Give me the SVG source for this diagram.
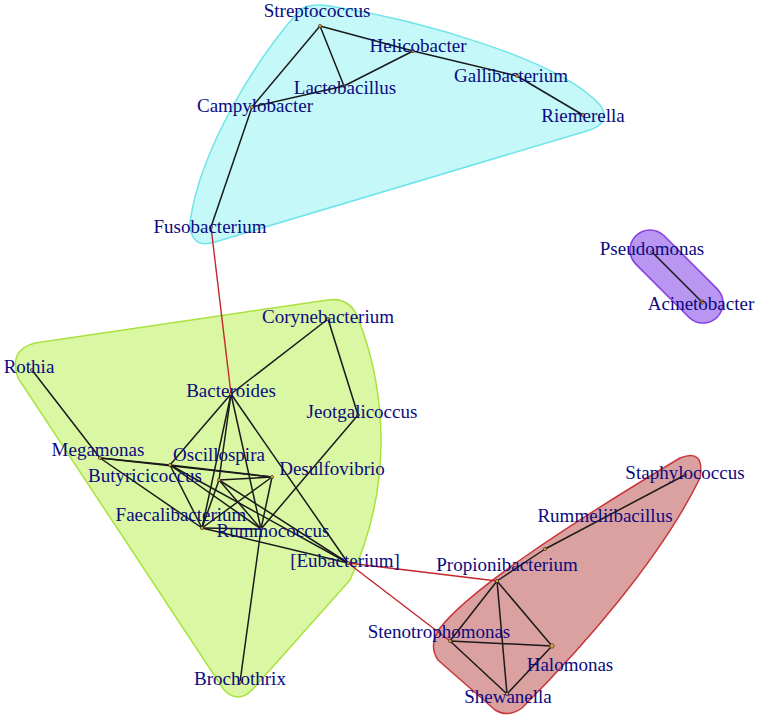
<svg xmlns="http://www.w3.org/2000/svg" width="759" height="717" viewBox="0 0 759 717">
<style>
.e{stroke:#1a1a1a;stroke-width:1.5;fill:none}
.r{stroke:#c4262b;stroke-width:1.4;fill:none}
.v{fill:#e8a52a;stroke:#333;stroke-width:0.7}
text{font-family:"Liberation Serif","Times New Roman",serif;font-size:19px;fill:#0b0b80;text-anchor:middle}
</style>
<rect width="759" height="717" fill="#ffffff"/>
<g id="hulls">
<path id="hull-cyan" d="M300,10 Q310,3 330,6 C420,20 560,60 600,105 Q612,122 590,130 L215,242 Q190,250 190,222 C200,150 255,60 300,10 Z" fill="#c4f8f9" stroke="#6fe4e9" stroke-width="1.5"/>
<path id="hull-green" d="M35,343 L328,300 Q350,297 358,318 C388,395 392,490 350,580 L252,690 Q238,704 224,690 L18,378 Q8,350 35,343 Z" fill="#daf8a3" stroke="#a9e23e" stroke-width="1.5"/>
<rect id="hull-purple" x="619" y="256.5" width="115" height="40" rx="20" transform="rotate(45 676.5 276.5)" fill="#b896f1" stroke="#8a3de2" stroke-width="1.5"/>
<path id="hull-red" d="M440,628 C470,590 560,530 680,458 Q705,448 700,478 C660,560 580,650 522,708 Q508,718 495,710 L438,660 Q428,645 440,628 Z" fill="#dba1a1" stroke="#c8383b" stroke-width="1.5"/>
</g>
<g id="connectors">
<line class="e" x1="320" y1="26" x2="252" y2="107"/>
<line class="e" x1="320" y1="26" x2="344" y2="86"/>
<line class="e" x1="320" y1="26" x2="413" y2="51"/>
<line class="e" x1="413" y1="51" x2="344" y2="86"/>
<line class="e" x1="344" y1="86" x2="252" y2="107"/>
<line class="e" x1="413" y1="51" x2="517" y2="76"/>
<line class="e" x1="517" y1="76" x2="583" y2="115"/>
<line class="e" x1="252" y1="107" x2="211" y2="227"/>
<line class="r" x1="211" y1="227" x2="231" y2="394"/>
<line class="e" x1="652" y1="252" x2="702" y2="302"/>
<line class="e" x1="32" y1="370" x2="100" y2="458"/>
<line class="e" x1="100" y1="458" x2="170" y2="465"/>
<line class="e" x1="100" y1="458" x2="272" y2="477"/>
<line class="e" x1="100" y1="458" x2="202" y2="528"/>
<line class="e" x1="231" y1="394" x2="328" y2="319"/>
<line class="e" x1="231" y1="394" x2="170" y2="465"/>
<line class="e" x1="231" y1="394" x2="219" y2="480"/>
<line class="e" x1="231" y1="394" x2="202" y2="528"/>
<line class="e" x1="231" y1="394" x2="261" y2="529"/>
<line class="e" x1="231" y1="394" x2="348" y2="563"/>
<line class="e" x1="328" y1="319" x2="358" y2="415"/>
<line class="e" x1="358" y1="415" x2="261" y2="529"/>
<line class="e" x1="170" y1="465" x2="272" y2="477"/>
<line class="e" x1="170" y1="465" x2="202" y2="528"/>
<line class="e" x1="170" y1="465" x2="261" y2="529"/>
<line class="e" x1="170" y1="465" x2="348" y2="563"/>
<line class="e" x1="219" y1="480" x2="272" y2="477"/>
<line class="e" x1="219" y1="480" x2="202" y2="528"/>
<line class="e" x1="219" y1="480" x2="261" y2="529"/>
<line class="e" x1="219" y1="480" x2="348" y2="563"/>
<line class="e" x1="272" y1="477" x2="202" y2="528"/>
<line class="e" x1="272" y1="477" x2="261" y2="529"/>
<line class="e" x1="202" y1="528" x2="261" y2="529"/>
<line class="e" x1="202" y1="528" x2="348" y2="563"/>
<line class="e" x1="261" y1="529" x2="240" y2="682"/>
<line class="r" x1="348" y1="563" x2="497" y2="581"/>
<line class="r" x1="348" y1="563" x2="450" y2="641"/>
<line class="e" x1="497" y1="581" x2="450" y2="641"/>
<line class="e" x1="497" y1="581" x2="552" y2="646"/>
<line class="e" x1="497" y1="581" x2="507" y2="694"/>
<line class="e" x1="450" y1="641" x2="552" y2="646"/>
<line class="e" x1="450" y1="641" x2="507" y2="694"/>
<line class="e" x1="552" y1="646" x2="507" y2="694"/>
<line class="e" x1="497" y1="581" x2="545" y2="549"/>
<line class="e" x1="545" y1="549" x2="685" y2="475"/>
</g>
<g id="n-streptococcus"><circle class="v" cx="320" cy="26" r="1.6"/><text x="317" y="17">Streptococcus</text></g>
<g id="n-helicobacter"><circle class="v" cx="413" cy="51" r="1.6"/><text x="418" y="52">Helicobacter</text></g>
<g id="n-lactobacillus"><circle class="v" cx="344" cy="86" r="1.6"/><text x="345" y="94">Lactobacillus</text></g>
<g id="n-campylobacter"><circle class="v" cx="252" cy="107" r="1.6"/><text x="255" y="112">Campylobacter</text></g>
<g id="n-gallibacterium"><circle class="v" cx="517" cy="76" r="1.6"/><text x="511" y="82">Gallibacterium</text></g>
<g id="n-riemerella"><circle class="v" cx="583" cy="115" r="1.6"/><text x="583" y="122">Riemerella</text></g>
<g id="n-fusobacterium"><circle class="v" cx="211" cy="227" r="1.6"/><text x="210" y="233">Fusobacterium</text></g>
<g id="n-pseudomonas"><circle class="v" cx="652" cy="252" r="1.6"/><text x="652" y="255">Pseudomonas</text></g>
<g id="n-acinetobacter"><circle class="v" cx="702" cy="302" r="2.2"/><text x="701" y="310">Acinetobacter</text></g>
<g id="n-corynebacterium"><circle class="v" cx="328" cy="319" r="1.6"/><text x="328" y="323">Corynebacterium</text></g>
<g id="n-rothia"><circle class="v" cx="32" cy="370" r="1.6"/><text x="29" y="373">Rothia</text></g>
<g id="n-bacteroides"><circle class="v" cx="231" cy="394" r="1.6"/><text x="231" y="397">Bacteroides</text></g>
<g id="n-jeotgalicoccus"><circle class="v" cx="358" cy="415" r="1.6"/><text x="362" y="418">Jeotgalicoccus</text></g>
<g id="n-megamonas"><circle class="v" cx="100" cy="458" r="1.6"/><text x="98" y="456">Megamonas</text></g>
<g id="n-butyricicoccus"><circle class="v" cx="170" cy="465" r="1.6"/><text x="145" y="482">Butyricicoccus</text></g>
<g id="n-oscillospira"><circle class="v" cx="219" cy="480" r="1.6"/><text x="219" y="461">Oscillospira</text></g>
<g id="n-desulfovibrio"><circle class="v" cx="272" cy="477" r="1.6"/><text x="332" y="475">Desulfovibrio</text></g>
<g id="n-faecalibacterium"><circle class="v" cx="202" cy="528" r="1.6"/><text x="181" y="521">Faecalibacterium</text></g>
<g id="n-rummococcus"><circle class="v" cx="261" cy="529" r="1.6"/><text x="273" y="537">Rummococcus</text></g>
<g id="n-eubacterium"><circle class="v" cx="348" cy="563" r="1.6"/><text x="345" y="567">[Eubacterium]</text></g>
<g id="n-brochothrix"><circle class="v" cx="240" cy="682" r="1.6"/><text x="240" y="685">Brochothrix</text></g>
<g id="n-propionibacterium"><circle class="v" cx="497" cy="581" r="1.6"/><text x="507" y="571">Propionibacterium</text></g>
<g id="n-stenotrophomonas"><circle class="v" cx="450" cy="641" r="1.6"/><text x="439" y="638">Stenotrophomonas</text></g>
<g id="n-halomonas"><circle class="v" cx="552" cy="646" r="2.2"/><text x="570" y="671">Halomonas</text></g>
<g id="n-shewanella"><circle class="v" cx="507" cy="694" r="1.6"/><text x="508" y="703">Shewanella</text></g>
<g id="n-rummeliibacillus"><circle class="v" cx="545" cy="549" r="1.6"/><text x="605" y="522">Rummeliibacillus</text></g>
<g id="n-staphylococcus"><circle class="v" cx="685" cy="475" r="1.6"/><text x="685" y="479">Staphylococcus</text></g>
</svg>
